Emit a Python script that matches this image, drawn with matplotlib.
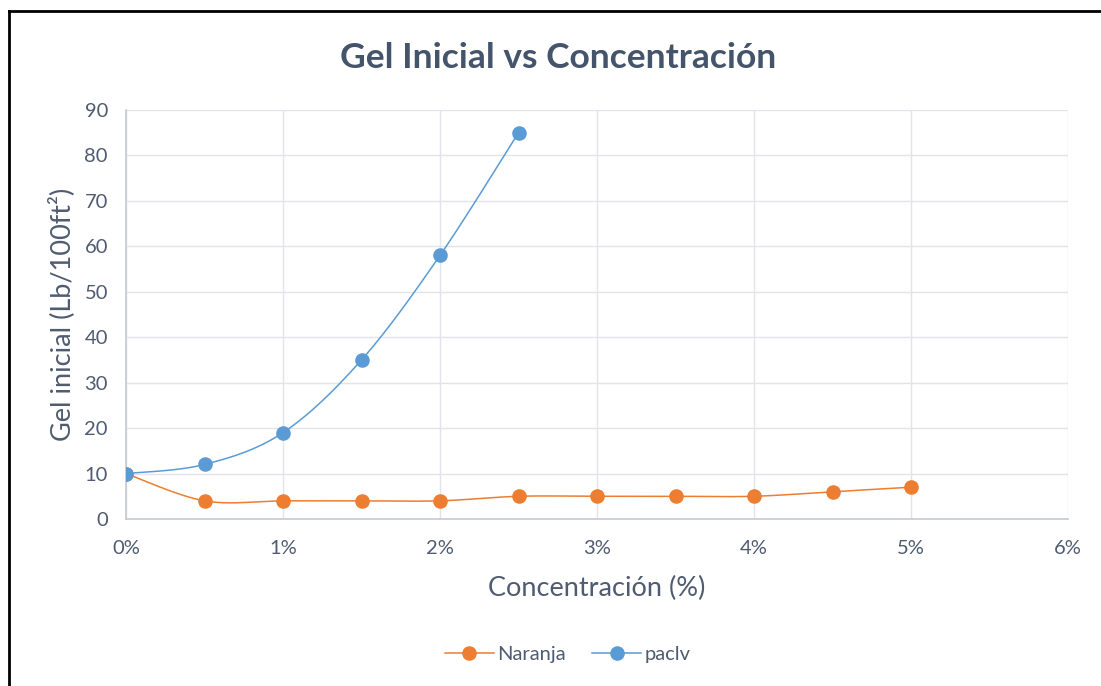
import numpy as np
import matplotlib
matplotlib.use("Agg")
import matplotlib.pyplot as plt
from matplotlib.lines import Line2D
from matplotlib.ticker import FuncFormatter

# Data
conc_naranja = [0.0, 0.5, 1.0, 1.5, 2.0, 2.5, 3.0, 3.5, 4.0, 4.5, 5.0]
gel_naranja = [10, 4, 4, 4, 4, 5, 5, 5, 5, 6, 7]
conc_paclv = [0.0, 0.5, 1.0, 1.5, 2.0, 2.5]
gel_paclv = [10, 12, 19, 35, 58, 85]

x_ticks = [0, 1, 2, 3, 4, 5, 6]
y_ticks = [0, 10, 20, 30, 40, 50, 60, 70, 80, 90]

ORANGE = "#ED7D31"
BLUE = "#5B9BD5"
TEXT = "#4F5B70"
TITLE = "#44546A"
GRID = "#E1E4EA"
SPINE = "#C5CAD3"

plt.rcParams["font.family"] = ["Lato", "DejaVu Sans"]


def smooth_path(xs, ys, n=40):
    """Catmull-Rom path through the points, like a spreadsheet 'smoothed line'."""
    pts = np.column_stack([xs, ys]).astype(float)
    p = np.vstack([pts[0], pts, pts[-1]])
    out = []
    for i in range(1, len(p) - 2):
        p0, p1, p2, p3 = p[i - 1], p[i], p[i + 1], p[i + 2]
        t = np.linspace(0, 1, n)[:, None]
        seg = 0.5 * ((2 * p1) + (-p0 + p2) * t
                     + (2 * p0 - 5 * p1 + 4 * p2 - p3) * t ** 2
                     + (-p0 + 3 * p1 - 3 * p2 + p3) * t ** 3)
        out.append(seg if i == 1 else seg[1:])
    out = np.vstack(out)
    return out[:, 0], out[:, 1]


fig = plt.figure(figsize=(11.01, 6.86), dpi=100)
ax = fig.add_axes([126 / 1101, 1 - 519 / 686, (1068 - 126) / 1101, (519 - 110) / 686])

for xs, ys, color in [(conc_naranja, gel_naranja, ORANGE), (conc_paclv, gel_paclv, BLUE)]:
    sx, sy = smooth_path(xs, ys)
    ax.plot(sx, sy, color=color, lw=1.1, zorder=3, solid_capstyle="round")
    ax.plot(xs, ys, "o", color=color, ms=10.5, mec="none", zorder=4)

ax.set_xlim(x_ticks[0], x_ticks[-1])
ax.set_ylim(y_ticks[0], y_ticks[-1])
ax.set_xticks(x_ticks)
ax.set_yticks(y_ticks)
ax.xaxis.set_major_formatter(FuncFormatter(lambda v, _: f"{v:.0f}%"))
ax.grid(True, color=GRID, lw=1.0, zorder=0)
ax.set_axisbelow(True)
for side in ["top", "right"]:
    ax.spines[side].set_visible(False)
for side in ["left", "bottom"]:
    ax.spines[side].set_color(SPINE)
    ax.spines[side].set_linewidth(1.2)
ax.tick_params(length=0, labelsize=14.5, colors=TEXT)
ax.tick_params(axis="y", pad=13)
ax.tick_params(axis="x", pad=15)

ax.set_xlabel("Concentración (%)", fontsize=19.5, color=TEXT, labelpad=14)
ax.set_ylabel("Gel inicial (Lb/100ft²)", fontsize=19.5, color=TEXT, labelpad=7)

fig.text(558 / 1101, 1 - 58 / 686, "Gel Inicial vs Concentración", fontsize=25.5,
         fontweight="bold", color=TITLE, ha="center", va="center")

handles = [
    Line2D([], [], color=ORANGE, lw=1.1, marker="o", ms=10.5, mec="none"),
    Line2D([], [], color=BLUE, lw=1.1, marker="o", ms=10.5, mec="none"),
]
leg = fig.legend(handles, ["Naranja", "paclv"], loc="center",
                 bbox_to_anchor=(568 / 1101, 1 - 654 / 686), ncol=2, frameon=False,
                 fontsize=14.5, handlelength=2.4, columnspacing=1.3, handletextpad=0.2)
for t in leg.get_texts():
    t.set_color(TEXT)

# Outer frame (left and top edges visible)
fig.add_artist(Line2D([9 / 1101, 9 / 1101], [0, 1 - 11 / 686], transform=fig.transFigure,
                      color="black", lw=2))
fig.add_artist(Line2D([9 / 1101, 1], [1 - 11 / 686, 1 - 11 / 686], transform=fig.transFigure,
                      color="black", lw=2))

fig.savefig("out.png", dpi=100)
